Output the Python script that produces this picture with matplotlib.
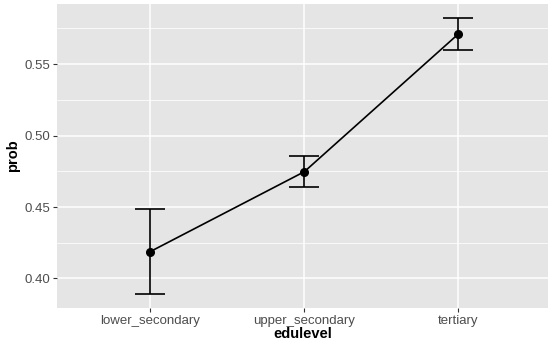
import numpy as np
import matplotlib.pyplot as plt

plt.rcParams['font.family'] = ['Liberation Sans', 'DejaVu Sans']

edulevel = ["lower_secondary", "upper_secondary", "tertiary"]
prob = [0.4188, 0.4747, 0.5711]
lower = [0.3890, 0.4642, 0.5597]
upper = [0.4485, 0.4855, 0.5824]

x = np.arange(1, len(edulevel) + 1)

fig = plt.figure(figsize=(5.48, 3.49), dpi=100)
ax = fig.add_axes([57 / 548, 41 / 349, 491 / 548, 304 / 349])
ax.set_facecolor("#E5E5E5")
for s in ax.spines.values():
    s.set_visible(False)

# grid in the ggplot grey style
ax.set_yticks([0.40, 0.45, 0.50, 0.55])
ax.set_yticks([0.425, 0.475, 0.525, 0.575], minor=True)
ax.set_xticks(x)
ax.set_xticklabels(edulevel)
ax.grid(which="major", color="white", linewidth=1.1)
ax.grid(which="minor", axis="y", color="white", linewidth=0.55)
ax.set_axisbelow(True)
ax.tick_params(which="minor", length=0)
ax.tick_params(which="major", length=3, width=0.8, color="#333333",
               labelcolor="#4D4D4D", labelsize=9.5, pad=2)

ax.errorbar(x, prob, yerr=[np.array(prob) - lower, np.array(upper) - prob],
            fmt="none", ecolor="black", elinewidth=1.2, capsize=10.8, capthick=1.2)
ax.plot(x, prob, color="black", linewidth=1.2)
ax.plot(x, prob, "o", color="black", markersize=5.5)

ax.set_xlim(0.394, 0.394 + 491 / 154)
ax.set_ylim(0.3793, 0.5921)

ax.set_xlabel("edulevel", fontsize=10.5, fontweight="bold", labelpad=0)
ax.set_ylabel("prob", fontsize=10.5, fontweight="bold", labelpad=3)

fig.savefig("out.png", dpi=100)
